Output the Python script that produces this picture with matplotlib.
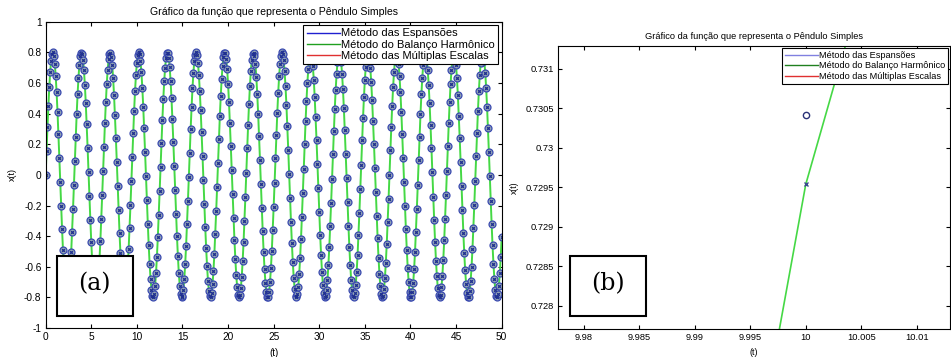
import numpy as np
import matplotlib
matplotlib.use("Agg")
import matplotlib.pyplot as plt
from matplotlib.patches import Rectangle

plt.rcParams['font.family'] = ['Liberation Sans', 'DejaVu Sans']
plt.rcParams['axes.unicode_minus'] = False

# --- dados (a) ---
# oscilação x(t) ~ A sin(w t), amostrada a cada 0.1 s entre 0 e 50
amplitude = 0.8
omega = 2.0          # período lido ~3.14
t_inicio, t_fim, passo = 0.0, 50.0, 0.1

# --- dados (b), zoom perto de t = 10 ---
zoom_t_circulo = [10.0]
zoom_x_circulo = [0.73042]
zoom_t_cruz = [10.0]
zoom_x_cruz = [0.72954]
zoom_t_linha = [9.9, 10.0, 10.1]
zoom_x_linha = [0.65234, 0.72954, 0.77864]

titulo = 'Gráfico da função que representa o Pêndulo Simples'
legendas = ['Método das Espansões', 'Método do Balanço Harmônico',
            'Método das Múltiplas Escalas']
ticks_a_x = [0, 5, 10, 15, 20, 25, 30, 35, 40, 45, 50]
ticks_a_y = [-1, -0.8, -0.6, -0.4, -0.2, 0, 0.2, 0.4, 0.6, 0.8, 1]
ticks_b_x = [9.98, 9.985, 9.99, 9.995, 10.0, 10.005, 10.01]
ticks_b_y = [0.728, 0.7285, 0.729, 0.7295, 0.73, 0.7305, 0.731]

t = np.arange(t_inicio, t_fim + passo / 2, passo)
x = amplitude * np.sin(omega * t)

fig = plt.figure(figsize=(9.51, 3.57), dpi=100)
ax1 = fig.add_axes([0.048, 0.081, 0.4795, 0.858])
ax2 = fig.add_axes([0.587, 0.0776, 0.412, 0.7936])

verde = '#45d845'


def estilo(ax, fs, xt, yt):
    for s in ax.spines.values():
        s.set_linewidth(0.8)
    ax.tick_params(direction='in', top=True, right=True, length=3,
                   width=0.8, labelsize=fs, pad=3)
    ax.set_xticks(xt)
    ax.set_xticklabels(['%g' % v for v in xt])
    ax.set_yticks(yt)
    ax.set_yticklabels(['%g' % v for v in yt])


# (a)
ax1.plot(t, x, color=verde, lw=1.4)
ax1.plot(t, x, 'o', mec='#3a4ab0', mfc='#94a6b4', ms=5, mew=0.9)
ax1.plot(t, x, 'x', color='#1f2f90', ms=2, mew=0.9)
h1 = [ax1.plot([], [], color=c, lw=1)[0] for c in ['#2020d0', '#20a020', '#e03030']]
ax1.set_xlim(0, 50)
ax1.set_ylim(-1, 1)
estilo(ax1, 7.3, ticks_a_x, ticks_a_y)
ax1.set_title(titulo, fontsize=7.6, pad=5)
ax1.set_xlabel('(t)', fontsize=7, labelpad=4)
ax1.set_ylabel('x(t)', fontsize=6.5, labelpad=5)
leg1 = ax1.legend(h1, legendas, loc='upper right', fontsize=8,
                  fancybox=False, edgecolor='black', framealpha=1,
                  handlelength=3.0, borderaxespad=0.3, labelspacing=0.1,
                  handletextpad=0.1, borderpad=0.3)
leg1.get_frame().set_linewidth(0.8)

# (b)
ax2.plot(zoom_t_linha, zoom_x_linha, color=verde, lw=1.2)
ax2.plot(zoom_t_circulo, zoom_x_circulo, 'o', mec='#2a3278', mfc='none',
         ms=4.5, mew=1.0)
ax2.plot(zoom_t_cruz, zoom_x_cruz, 'x', color='#3a4a90', ms=3.5, mew=1.0)
h2 = [ax2.plot([], [], color=c, lw=1)[0] for c in ['#8080e0', '#208020', '#e03030']]
ax2.set_xlim(9.9777, 10.0130)
ax2.set_ylim(0.727705, 0.731291)
estilo(ax2, 6.7, ticks_b_x, ticks_b_y)
ax2.set_title(titulo, fontsize=6.7, pad=5)
ax2.set_xlabel('(t)', fontsize=6.5, labelpad=4)
ax2.set_ylabel('x(t)', fontsize=6.2, labelpad=5)
leg2 = ax2.legend(h2, legendas, loc='upper right', fontsize=6.6,
                  fancybox=False, edgecolor='black', framealpha=1,
                  handlelength=3.6, borderaxespad=0.25, labelspacing=0.15,
                  handletextpad=0.1, borderpad=0.3)
leg2.get_frame().set_linewidth(0.8)

# caixas (a) e (b)
for x0, rotulo in [(0.0596, '(a)'), (0.5994, '(b)')]:
    fig.add_artist(Rectangle((x0, 0.1148), 0.0800, 0.169,
                             transform=fig.transFigure, facecolor='white',
                             edgecolor='black', lw=1.5, zorder=10))
    fig.text(x0 + 0.040, 0.1148 + 0.0845 + 0.005, rotulo, fontsize=17,
             family='DejaVu Serif', ha='center', va='center', zorder=11)

fig.savefig('out.png', dpi=100)
